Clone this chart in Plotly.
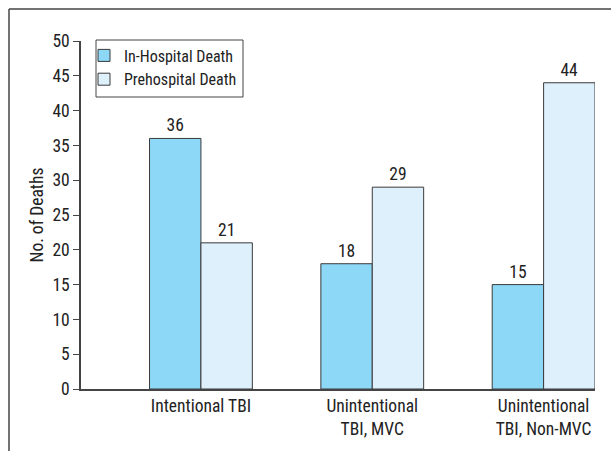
import plotly.graph_objects as go

categories = ["Intentional TBI", "Unintentional<br>TBI, MVC", "Unintentional<br>TBI, Non-MVC"]
in_hospital = [36, 18, 15]
prehospital = [21, 29, 44]
y_ticks = [0, 5, 10, 15, 20, 25, 30, 35, 40, 45, 50]

FONT = "Roboto Condensed, Liberation Sans Narrow, Arial Narrow, sans-serif"
FS = 17.5

W, H = 611, 451
L, R, T, B = 81, 16, 41, 62
pw, ph = W - L - R, H - T - B

def px(x):
    return (x - L) / pw

def py(y):
    return (H - B - y) / ph

fig = go.Figure()
fig.add_trace(go.Bar(
    name="In-Hospital Death", x=categories, y=in_hospital,
    marker=dict(color="#8DD7F7", line=dict(color="#3a3a3a", width=1)),
    text=in_hospital, textposition="outside",
    textfont=dict(size=FS, color="#222"), cliponaxis=False,
))
fig.add_trace(go.Bar(
    name="Prehospital Death", x=categories, y=prehospital,
    marker=dict(color="#DDF0FB", line=dict(color="#3a3a3a", width=1)),
    text=prehospital, textposition="outside",
    textfont=dict(size=FS, color="#222"), cliponaxis=False,
))

fig.update_layout(
    width=W, height=H,
    margin=dict(l=L, r=R, t=T, b=B),
    paper_bgcolor="white", plot_bgcolor="white",
    barmode="group", bargap=0.4, bargroupgap=0,
    font=dict(family=FONT, size=FS, color="#222"),
    showlegend=True,
    legend=dict(
        x=px(84), y=py(38.5), xanchor="left", yanchor="top",
        borderwidth=0, bgcolor="rgba(0,0,0,0)",
        font=dict(size=16, family=FONT, color="#222"),
        tracegroupgap=0, itemwidth=30,
    ),
    xaxis=dict(
        range=[-0.7, 2.3], showline=True, linecolor="#444", linewidth=1.5,
        ticks="", showgrid=False, zeroline=False,
        tickfont=dict(size=FS, family=FONT, color="#222"),
    ),
    yaxis=dict(
        range=[0, 50], tickvals=y_ticks, showline=True, linecolor="#444",
        linewidth=1.5, ticks="outside", ticklen=6, tickcolor="#444",
        showgrid=False, zeroline=False,
        title=dict(text="No. of Deaths", standoff=4,
                   font=dict(size=FS, family=FONT, color="#222")),
        tickfont=dict(size=FS, family=FONT, color="#222"),
    ),
    shapes=[
        dict(type="line", xref="paper", yref="paper",
             x0=px(9), y0=py(9), x1=px(W + 5), y1=py(9),
             line=dict(color="#444", width=1.5)),
        dict(type="line", xref="paper", yref="paper",
             x0=px(9), y0=py(9), x1=px(9), y1=py(H + 5),
             line=dict(color="#444", width=1.5)),
        dict(type="rect", xref="paper", yref="paper",
             x0=px(96), y0=py(40), x1=px(243), y1=py(97),
             line=dict(color="#444", width=1), fillcolor="white",
             layer="below"),
    ],
)

fig.write_html("out.html", config={"displayModeBar": False},
               post_script="document.body.style.margin='0';")
